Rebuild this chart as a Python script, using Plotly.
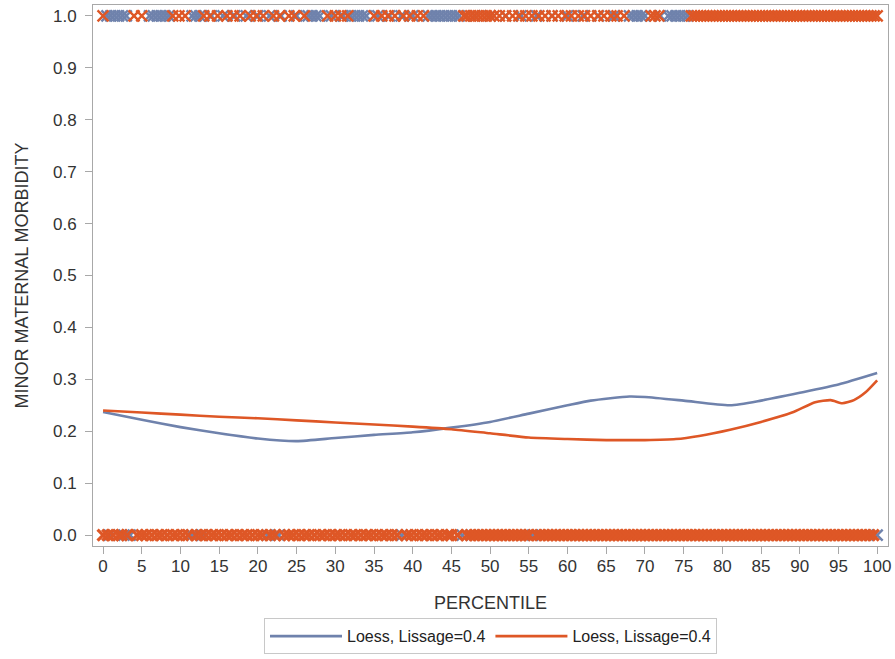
import plotly.graph_objects as go

# ---- Loess curves ----
blue_x = [0, 5, 10, 15, 20, 25, 30, 35, 40, 45, 50, 55, 60, 63, 68, 70, 75, 81, 85, 90, 95, 100]
blue_y = [0.237, 0.222, 0.208, 0.196, 0.186, 0.181, 0.187, 0.193, 0.198, 0.207, 0.218, 0.234, 0.250,
          0.259, 0.267, 0.266, 0.259, 0.250, 0.259, 0.274, 0.290, 0.312]
orange_x = [0, 5, 10, 15, 20, 25, 30, 35, 40, 45, 50, 55, 60, 65, 70, 74, 77, 81, 85, 89, 92, 94,
            95.5, 97, 98.5, 100]
orange_y = [0.240, 0.236, 0.232, 0.228, 0.225, 0.221, 0.217, 0.213, 0.209, 0.204, 0.196, 0.188,
            0.185, 0.183, 0.183, 0.185, 0.191, 0.203, 0.218, 0.236, 0.256, 0.260, 0.254, 0.260,
            0.275, 0.298]

# ---- Observed outcomes (0/1) ----
blue_top_x = [0.5, 1, 1.5, 2, 2.5, 3, 6, 6.5, 7, 7.5, 8, 8.5, 11.5, 12, 12.5, 14, 15.5, 17, 18.5,
              20, 21.5, 23, 25, 26.5, 27, 27.5, 28, 29.5, 31, 32, 32.5, 33, 33.5, 34, 35.5, 37,
              38.5, 40, 42, 42.5, 43, 43.5, 44, 44.5, 45, 45.5, 46, 48, 50, 52, 54, 56, 58, 60,
              62, 64, 66, 68, 68.5, 69, 69.5, 70, 72, 73, 73.5, 74, 74.5, 75, 75.5]
orange_top_x = [0, 4, 5, 9, 9.8, 10.6, 13, 13.8, 14.8, 16, 16.8, 17.7, 19, 19.8, 20.7, 22, 22.8,
                24, 24.7, 26, 29, 30, 30.7, 31.6, 35, 36, 36.8, 37.7, 38.8, 39.6, 40.6, 41.4,
                46.6, 47, 47.5, 48, 48.5, 49, 49.5, 50, 50.5, 51.2, 52, 52.9, 53.7, 54.6, 55.4,
                56.3, 57.1, 58, 58.8, 59.7, 60.5, 61.4, 62.2, 63, 63.9, 64.7, 65.6, 66.4, 67.3,
                70.8, 71.3, 71.8, 76, 76.4, 76.8, 77.2, 77.6, 78, 78.4, 78.8, 79.2, 79.6, 80,
                80.4, 80.8, 81.2, 81.6, 82, 82.4, 82.8, 83.2, 83.6, 84, 84.4, 84.8, 85.2, 85.6,
                86, 86.4, 86.8, 87.2, 87.6, 88, 88.4, 88.8, 89.2, 89.6, 90, 90.4, 90.8, 91.2,
                91.6, 92, 92.4, 92.8, 93.2, 93.6, 94, 94.4, 94.8, 95.2, 95.6, 96, 96.4, 96.8,
                97.2, 97.6, 98, 98.4, 98.8, 99.2, 99.6, 100]
blue_bottom_x = [0.8, 2.7, 3.5, 11.5, 12.8, 21.2, 22.7, 38.6, 46.4, 55.5, 100]
orange_bottom_x = [0, 0.6, 1.3, 2, 2.4, 3.1, 4.4, 5, 5.6, 6.3, 7, 7.6, 8.3, 9, 9.6, 10.3, 11, 12,
                   12.6, 13.3, 14, 14.6, 15.3, 16, 16.6, 17.3, 18, 18.6, 19.3, 20, 20.6, 21.6,
                   22.2, 23.4, 24, 24.6, 25.3, 26, 26.6, 27.3, 28, 28.6, 29.3, 30, 30.6, 31.3,
                   32, 32.6, 33.3, 34, 34.6, 35.3, 36, 36.6, 37.3, 38, 39.2, 39.8, 40.5, 41.2,
                   41.8, 42.5, 43.2, 43.8, 44.5, 45, 45.8, 47, 47.5, 48, 48.5, 49, 49.5, 50,
                   50.5, 51, 51.5, 52, 52.5, 53, 53.5, 54, 54.5, 55, 56, 56.5, 57, 57.5, 58,
                   58.5, 59, 59.5, 60, 60.5, 61, 61.5, 62, 62.5, 63, 63.5, 64, 64.5, 65, 65.5,
                   66, 66.5, 67, 67.5, 68, 68.5, 69, 69.5, 70, 70.5, 71, 71.5, 72, 72.5, 73,
                   73.5, 74, 74.5, 75, 75.5, 76, 76.5, 77, 77.5, 78, 78.5, 79, 79.5, 80, 80.5,
                   81, 81.5, 82, 82.5, 83, 83.5, 84, 84.5, 85, 85.5, 86, 86.5, 87, 87.5, 88,
                   88.5, 89, 89.5, 90, 90.5, 91, 91.5, 92, 92.5, 93, 93.5, 94, 94.5, 95, 95.5,
                   96, 96.5, 97, 97.5, 98, 98.5, 99, 99.5]

x_ticks = list(range(0, 101, 5))
y_ticks = [0.0, 0.1, 0.2, 0.3, 0.4, 0.5, 0.6, 0.7, 0.8, 0.9, 1.0]

legend_label = "Loess, Lissage=0.4"
BLUE = "#6F82AC"
ORANGE = "#DE5726"
FONT = "Liberation Sans, Arial, sans-serif"


def markers(xs, yval, color, lw):
    return go.Scatter(
        x=xs, y=[yval] * len(xs), mode="markers", showlegend=False, hoverinfo="skip",
        marker=dict(symbol="x-thin", size=11, color=color, line=dict(color=color, width=lw)),
    )


fig = go.Figure()
fig.add_trace(markers(blue_top_x, 1, BLUE, 2.4))
fig.add_trace(markers(blue_bottom_x, 0, BLUE, 2.4))
fig.add_trace(markers(orange_top_x, 1, ORANGE, 2.4))
fig.add_trace(markers(orange_bottom_x, 0, ORANGE, 3.2))
fig.add_trace(go.Scatter(x=blue_x, y=blue_y, mode="lines", name=legend_label,
                         line=dict(color=BLUE, width=2.6, shape="spline", smoothing=0.6)))
fig.add_trace(go.Scatter(x=orange_x, y=orange_y, mode="lines", name=legend_label,
                         line=dict(color=ORANGE, width=2.6, shape="spline", smoothing=0.6)))

axis_common = dict(
    showgrid=False, zeroline=False, showline=True, mirror=True, linecolor="#A8A8A8", linewidth=1,
    ticks="outside", ticklen=7, tickcolor="#A8A8A8", tickwidth=1,
    tickfont=dict(family=FONT, size=17, color="#333333"),
)

fig.update_layout(
    width=895, height=659,
    margin=dict(l=93, r=7, t=5, b=111),
    paper_bgcolor="white", plot_bgcolor="white",
    xaxis=dict(range=[-1.3, 101.4], tickvals=x_ticks, ticktext=[str(v) for v in x_ticks],
               ticklabelstandoff=-2,
               title=dict(text="PERCENTILE", font=dict(family=FONT, size=18, color="#333333"),
                          standoff=20),
               automargin=False, **axis_common),
    yaxis=dict(range=[-0.021, 1.021], tickvals=y_ticks, ticktext=[f"{v:.1f}" for v in y_ticks],
               ticklabelstandoff=5,
               title=dict(text="MINOR MATERNAL MORBIDITY",
                          font=dict(family=FONT, size=18, color="#333333"), standoff=19),
               automargin=False, **axis_common),
    legend=dict(orientation="h", x=0.5, xanchor="center", y=-0.200, yanchor="bottom",
                bordercolor="#C8C8C8", borderwidth=1, bgcolor="white",
                font=dict(family=FONT, size=16, color="#222222"),
                itemwidth=72),
    showlegend=True,
)

fig.write_html("out.html", config={"displayModeBar": False},
               post_script="document.body.style.margin='0';")
